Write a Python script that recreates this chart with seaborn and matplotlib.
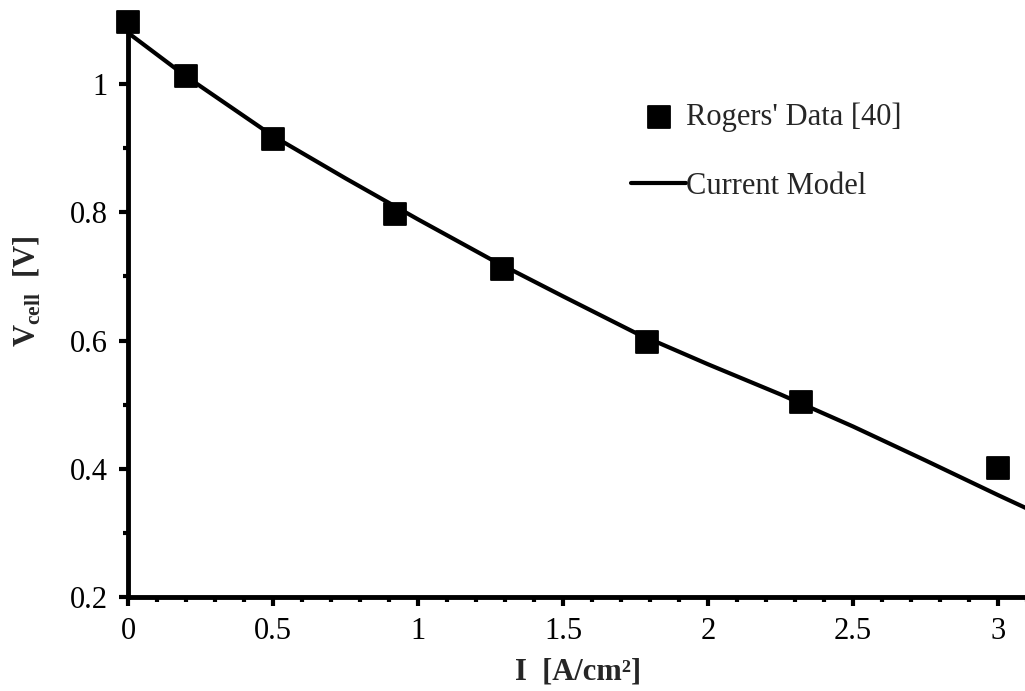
import numpy as np
import pandas as pd
import matplotlib
matplotlib.use('Agg')
import matplotlib.pyplot as plt
from matplotlib.ticker import MultipleLocator
import seaborn as sns

# --- dane ---
rogers_i = [0.0, 0.2, 0.5, 0.92, 1.29, 1.79, 2.32, 3.0]
rogers_v = [1.097, 1.012, 0.914, 0.798, 0.712, 0.598, 0.504, 0.402]

model_i = [0.0, 0.1, 0.2, 0.3, 0.5, 0.75, 1.0, 1.25, 1.5, 1.75, 2.0, 2.25, 2.5, 2.75, 3.0, 3.1]
model_v = [1.080, 1.046, 1.012, 0.981, 0.919, 0.853, 0.789, 0.727, 0.669, 0.612,
           0.563, 0.516, 0.466, 0.413, 0.359, 0.338]

df_data = pd.DataFrame({'I': rogers_i, 'V': rogers_v})
df_model = pd.DataFrame({'I': model_i, 'V': model_v})

sns.set_theme(style='ticks')
plt.rcParams['font.family'] = ['Liberation Serif', 'DejaVu Serif']
plt.rcParams['mathtext.fontset'] = 'custom'
plt.rcParams['mathtext.rm'] = 'Liberation Serif'
plt.rcParams['mathtext.bf'] = 'Liberation Serif:bold'

fig = plt.figure(figsize=(10.25, 6.91), dpi=100)
ax = fig.add_axes([0.125, 0.136, 0.877, 0.835])

sns.lineplot(data=df_model, x='I', y='V', color='black', linewidth=3,
             label='Current Model', ax=ax, zorder=2)
sns.scatterplot(data=df_data, x='I', y='V', marker='s', s=260, color='black',
                edgecolor='black', label="Rogers' Data [40]", ax=ax, zorder=3,
                clip_on=False)

ax.set_xlim(0, 3.1)
ax.set_ylim(0.2, 1.1)
ax.xaxis.set_major_locator(MultipleLocator(0.5))
ax.xaxis.set_minor_locator(MultipleLocator(0.1))
ax.yaxis.set_major_locator(MultipleLocator(0.2))
ax.yaxis.set_minor_locator(MultipleLocator(0.1))
ax.xaxis.set_major_formatter(plt.FuncFormatter(lambda v, p: f'{v:g}'))
ax.yaxis.set_major_formatter(plt.FuncFormatter(lambda v, p: f'{v:g}'))

for s in ['top', 'right']:
    ax.spines[s].set_visible(False)
for s in ['left', 'bottom']:
    ax.spines[s].set_linewidth(3.5)
    ax.spines[s].set_color('black')

ax.tick_params(which='major', length=6.5, width=3, labelsize=22, colors='black', pad=8)
ax.tick_params(which='minor', length=3.5, width=3, colors='black')

ax.set_xlabel('I  [A/cm²]', fontsize=22, fontweight='bold', labelpad=8)
ax.set_ylabel(r'$\mathbf{V}_{\mathbf{cell}}$  [V]', fontsize=22, fontweight='bold')
ax.yaxis.set_label_coords(-0.095, 0.53)

# legenda: najpierw dane, potem model
handles, labels = ax.get_legend_handles_labels()
order = [labels.index("Rogers' Data [40]"), labels.index('Current Model')]
ax.legend([handles[i] for i in order], [labels[i] for i in order],
          loc='upper left', bbox_to_anchor=(0.546, 0.878), frameon=False,
          fontsize=22, handlelength=1.8, handletextpad=0.0,
          labelspacing=1.3, borderaxespad=0)

fig.savefig('out.png', dpi=100)
